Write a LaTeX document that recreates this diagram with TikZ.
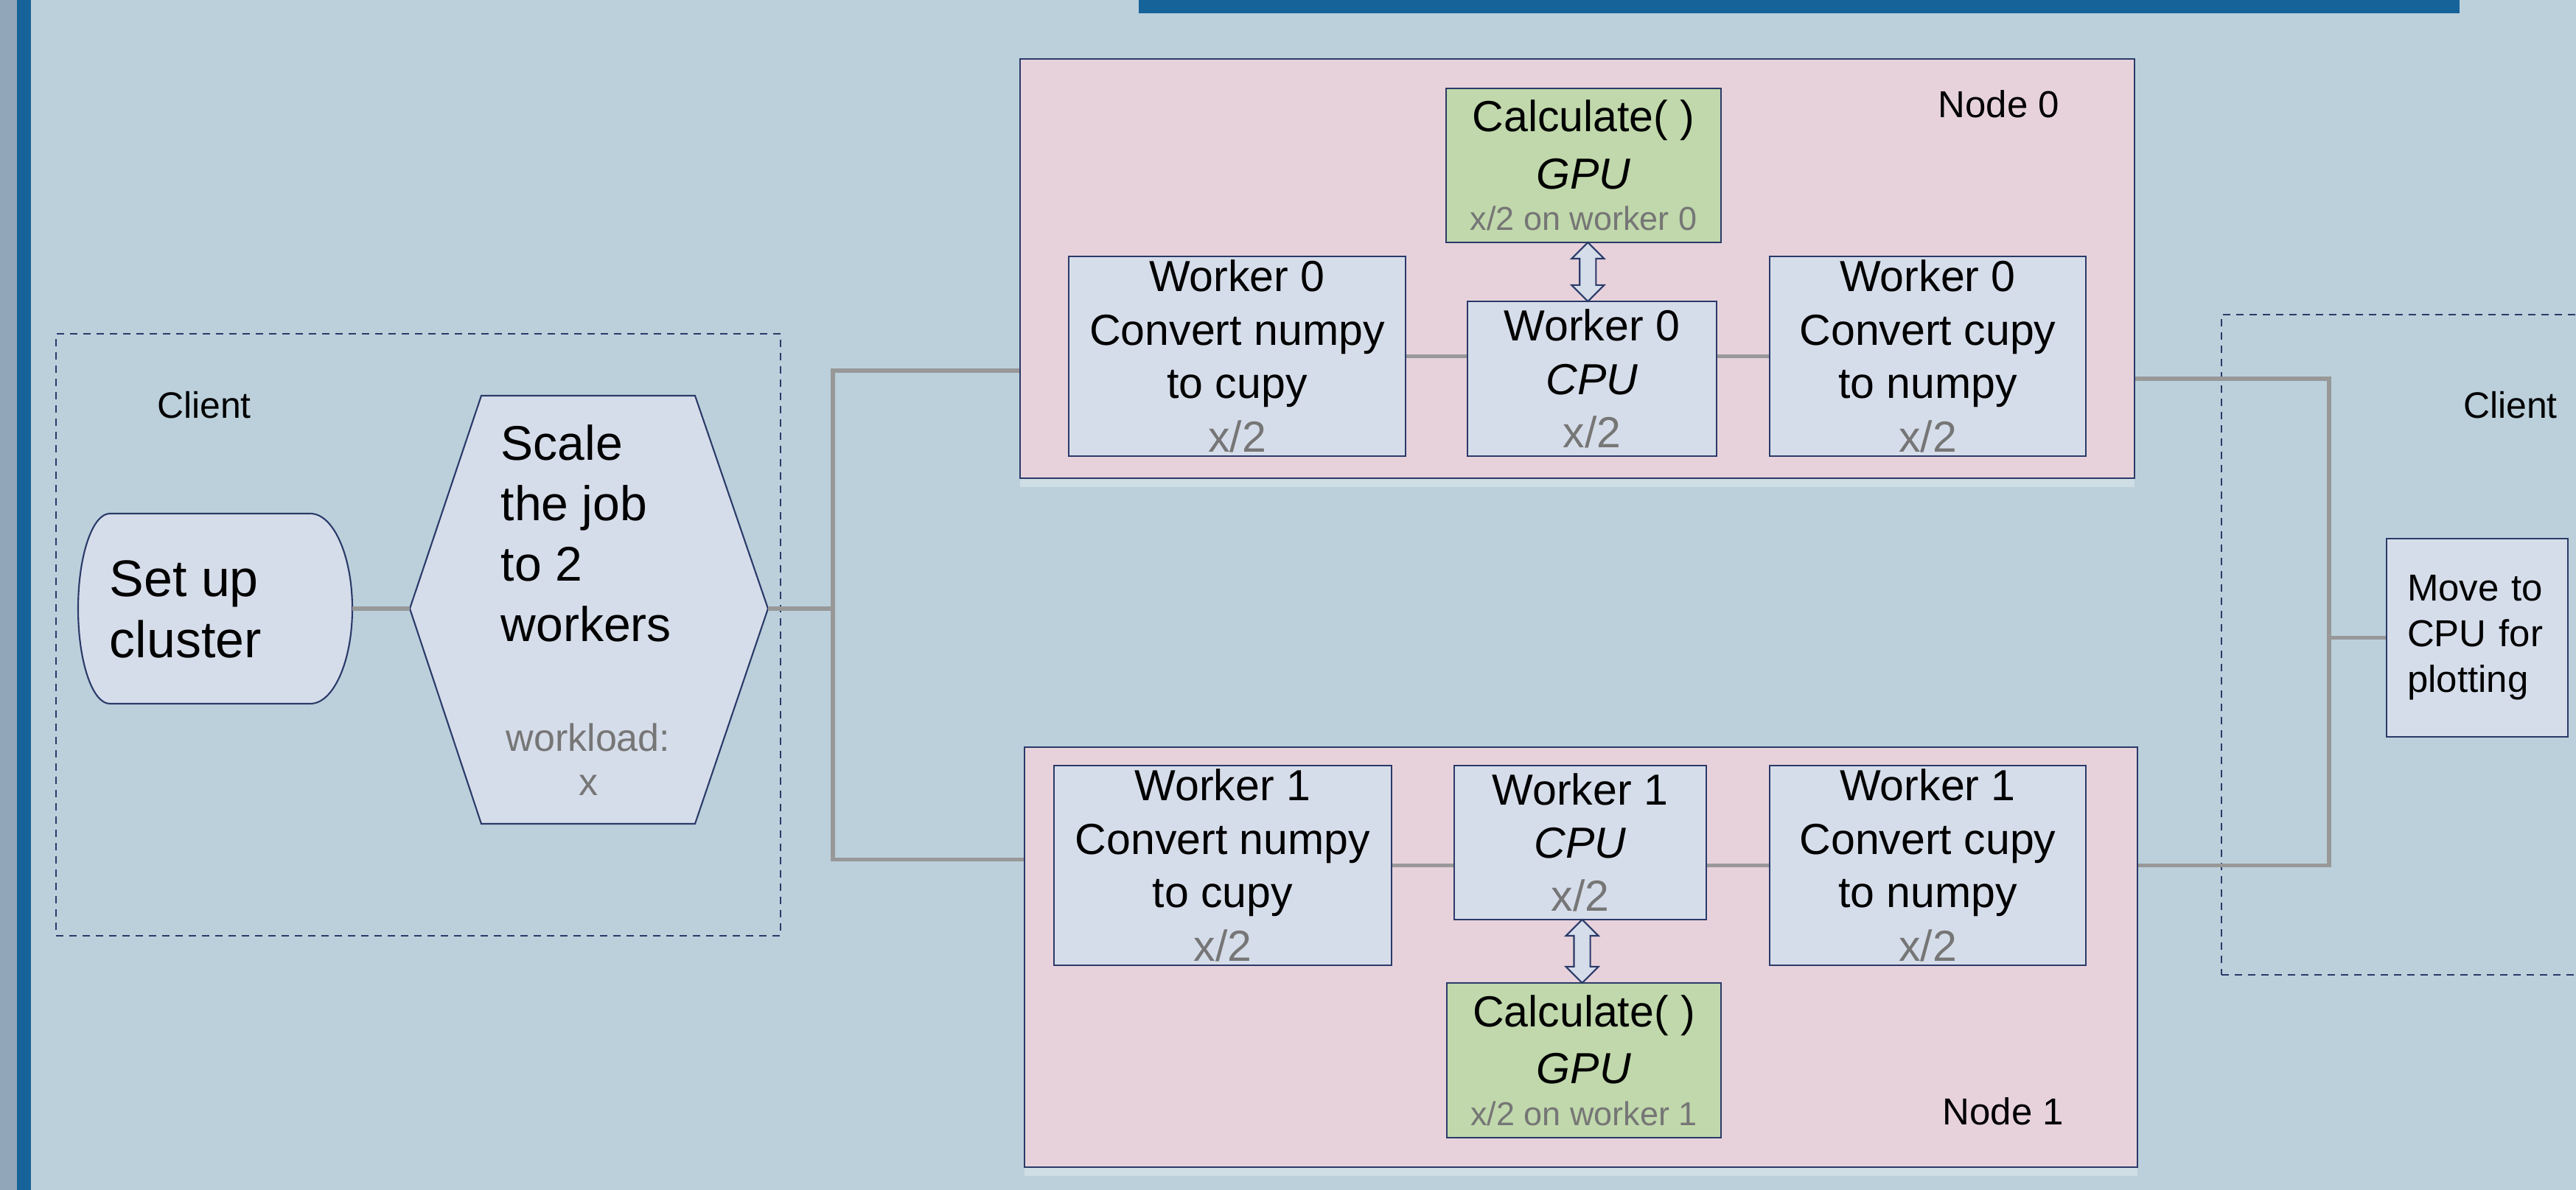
\documentclass[tikz,border=0pt]{standalone}
\usepackage{fontspec}
\setmainfont{Liberation Sans}
\usetikzlibrary{shapes.arrows, shadows, positioning, calc}
\definecolor{bg_blue}{RGB}{187, 208, 219}
\definecolor{bar_blue}{RGB}{22, 99, 153}
\definecolor{side_gray}{RGB}{145, 166, 184}
\definecolor{frame_pink}{RGB}{231, 210, 219}
\definecolor{box_fill}{RGB}{214, 221, 234}
\definecolor{gpu_green}{RGB}{192, 216, 171}
\definecolor{edge_navy}{RGB}{42, 58, 105}
\definecolor{link_gray}{RGB}{152, 152, 152}
\definecolor{note_gray}{RGB}{118, 118, 118}
\def \half {\textcolor{note_gray}{x/2}}

\begin{document}
\begin{tikzpicture}[
    % Node styles
    hostbox/.style={
        rectangle,
        draw=edge_navy,
        fill=frame_pink,
        line width=0.6pt,
        drop shadow={shadow xshift=0cm, shadow yshift=-0.12cm, fill=white, opacity=0.3}
    },
    worker/.style={
        rectangle,
        draw=edge_navy,
        fill=#1,
        line width=0.6pt,
        inner sep=0pt,
        align=center,
        font=\fontsize{16.8}{20.6}\selectfont
    },
    client/.style={
        rectangle,
        draw=edge_navy,
        line width=0.5pt,
        dash pattern=on 0.1cm off 0.08cm
    },
    startedge/.style={
        draw=edge_navy,
        fill=box_fill,
        line width=0.6pt
    },
    tagtext/.style={
        inner sep=0pt,
        font=\fontsize{#1}{#1}\selectfont
    },
    link/.style={
        draw=link_gray,
        line width=1.7pt
    },
    sync/.style={
        double arrow,
        double arrow head extend=0.11cm,
        draw=edge_navy,
        fill=box_fill,
        line width=0.6pt,
        inner xsep=0pt,
        inner ysep=0.1cm,
        rotate=90
    }
]
\useasboundingbox (0,0) rectangle (34.95,-16.15);

% Page background
\fill[bg_blue] (0,0) rectangle (34.95,-16.15);
\fill[side_gray] (0,0) rectangle (0.23,-16.15);
\fill[bar_blue] (0.23,0) rectangle (0.42,-16.15);
\fill[bar_blue] (15.45,0) rectangle (33.37,-0.18);

% Client side
\node[client, minimum width=9.83cm, minimum height=8.17cm] (clientL) at (5.675,-8.615) {};
\node[client, minimum width=5.3cm, minimum height=8.96cm] (clientR) at (32.79,-8.75) {};
\node[tagtext=14.2] (tagL) at (2.77,-5.50) {Client};
\node[tagtext=14.2] (tagR) at (34.06,-5.50) {Client};

\draw[startedge] (4.21,-6.97) -- (1.49,-6.97) arc[start angle=90, end angle=270, x radius=0.43, y radius=1.29]
    -- (4.21,-9.55) arc[start angle=-90, end angle=90, x radius=0.57, y radius=1.29] -- cycle;
\coordinate (setupR) at (4.78,-8.26);
\node[anchor=west, inner sep=0pt, align=left, font=\fontsize{19.9}{23.6}\selectfont] (setup) at (1.48,-8.265) {Set up\\cluster};

\draw[startedge] (6.53,-5.37) -- (9.43,-5.37) -- (10.42,-8.26) coordinate (hexR)
    -- (9.43,-11.18) -- (6.53,-11.18) -- (5.56,-8.26) coordinate (hexL) -- cycle;
\node[anchor=west, inner sep=0pt, align=left, font=\fontsize{18.8}{23.3}\selectfont] (scale) at (6.79,-7.24) {Scale\\the job\\to 2\\workers};
\node[inner sep=0pt, align=center, text=note_gray, font=\fontsize{14.8}{17.1}\selectfont] (load) at (7.98,-10.31) {workload:\\x};

% Node 0
\node[hostbox, minimum width=15.12cm, minimum height=5.69cm] (node0) at (21.40,-3.645) {};
\node[tagtext=14.5] (tag0) at (27.12,-1.41) {Node 0};
\node[worker=gpu_green, minimum width=3.73cm, minimum height=2.09cm] (gpu0) at (21.485,-2.245) {Calculate( )\\[0.05cm]\textit{GPU}\\[-0.16cm]{\fontsize{12.8}{15}\selectfont\textcolor{note_gray}{x/2 on worker 0}}};
\node[worker=box_fill, minimum width=4.57cm, minimum height=2.71cm] (conv0) at (16.785,-4.835) {Worker 0\\Convert numpy\\to cupy\\\half};
\node[worker=box_fill, minimum width=3.38cm, minimum height=2.10cm] (cpu0) at (21.60,-5.14) {Worker 0\\\textit{CPU}\\\half};
\node[worker=box_fill, minimum width=4.29cm, minimum height=2.71cm] (back0) at (26.155,-4.835) {Worker 0\\Convert cupy\\to numpy\\\half};
\node[sync, minimum height=0.80cm] (sync0) at ($(gpu0.south)!0.5!(cpu0.north)$) {};

% Node 1
\node[hostbox, minimum width=15.10cm, minimum height=5.70cm] (node1) at (21.45,-12.99) {};
\node[tagtext=14.5] (tag1) at (27.18,-15.08) {Node 1};
\node[worker=box_fill, minimum width=4.58cm, minimum height=2.71cm] (conv1) at (16.59,-11.745) {Worker 1\\Convert numpy\\to cupy\\\half};
\node[worker=box_fill, minimum width=3.42cm, minimum height=2.09cm] (cpu1) at (21.44,-11.435) {Worker 1\\\textit{CPU}\\\half};
\node[worker=box_fill, minimum width=4.29cm, minimum height=2.71cm] (back1) at (26.155,-11.745) {Worker 1\\Convert cupy\\to numpy\\\half};
\node[worker=gpu_green, minimum width=3.72cm, minimum height=2.10cm] (gpu1) at (21.49,-14.39) {Calculate( )\\[0.05cm]\textit{GPU}\\[-0.16cm]{\fontsize{12.8}{15}\selectfont\textcolor{note_gray}{x/2 on worker 1}}};
\node[sync, minimum height=0.86cm] (sync1) at ($(cpu1.south)!0.5!(gpu1.north)$) {};

% Result on the client
\node[rectangle, draw=edge_navy, fill=box_fill, line width=0.6pt, align=left, text width=1.9cm, inner xsep=0.28cm, minimum height=2.69cm, font=\fontsize{14.5}{17.6}\selectfont] (move) at (33.61,-8.655) {Move to\\CPU for\\plotting};

% Connectors
\coordinate (fork) at (11.30,-8.26);
\coordinate (merge) at (31.60,-8.655);
\draw[link] (setupR) -- (hexL);
\draw[link] (hexR) -- (fork);
\draw[link] ($(node0.west |- cpu0)+(0,0.11)$) -| (fork) |- ($(node1.west |- conv1)+(0,0.08)$);
\draw[link] (conv0.east) -- (conv0.east -| cpu0.west);
\draw[link] (cpu0.east |- back0.west) -- (back0.west);
\draw[link] (conv1.east) -- (conv1.east -| cpu1.west);
\draw[link] (cpu1.east |- back1.west) -- (back1.west);
\draw[link] (node0.east |- cpu0) -| (merge) |- (node1.east |- conv1);
\draw[link] (merge) -- (move);

\end{tikzpicture}
\end{document}
